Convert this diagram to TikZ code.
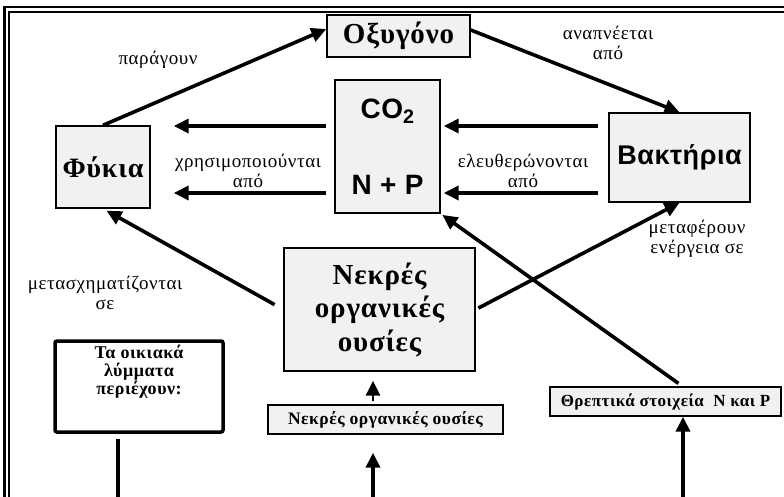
\documentclass[tikz,border=0pt]{standalone}
\usepackage{fontspec}
\setmainfont{Liberation Serif}
\setsansfont{Liberation Sans}
\newfontfamily\spacedserif[LetterSpace=3]{Liberation Serif}
\newfontfamily\spacedsans[LetterSpace=2]{Liberation Sans}
\usetikzlibrary{arrows.meta}
\pgfdeclarelayer{edgelayer}
\pgfdeclarelayer{nodelayer}
\pgfsetlayers{edgelayer,nodelayer,main}
\definecolor{boxgray}{RGB}{241,241,241}
\tikzstyle{box}=[draw=black, fill=boxgray, line width=1.4pt, inner sep=0pt]
\tikzstyle{flow}=[draw=black, line width=3.6pt, -{Triangle[length=15pt,width=14pt]}]
\tikzstyle{plain}=[draw=black, line width=3.6pt]
\tikzstyle{lbl}=[font=\spacedserif\fontsize{19}{19.5}\selectfont, align=center]

\begin{document}
\begin{tikzpicture}[x=1pt, y=-1pt]
				\useasboundingbox (0,0) rectangle (784,497);
				\draw [line width=2.6pt] (4.5,497) -- (4.5,7) -- (784,7);
				\draw [line width=2pt] (8.5,497) -- (8.5,12) -- (784,12);
				\begin{pgfonlayer}{nodelayer}
					\node [style=box, minimum width=143pt, minimum height=42pt, font=\spacedserif\bfseries\fontsize{29}{30}\selectfont] (oxygen) at (398.5, 36) {Οξυγόνο};
					\node [style=box, minimum width=105pt, minimum height=133pt, align=center, font=\spacedsans\bfseries\fontsize{28}{31}\selectfont] (nutpool) at (387.5, 146.5) {CO\textsubscript{2}\\[45pt]N + P};
					\node [style=box, minimum width=94pt, minimum height=82pt, font=\spacedserif\bfseries\fontsize{28}{30}\selectfont] (algae) at (103, 167) {Φύκια};
					\node [style=box, minimum width=141pt, minimum height=89pt, font=\spacedsans\bfseries\fontsize{27}{30}\selectfont] (bacteria) at (679.5, 157.5) {Βακτήρια};
					\node [style=box, minimum width=191pt, minimum height=123pt, align=center, font=\spacedserif\bfseries\fontsize{29}{33.5}\selectfont] (dead) at (379.5, 309.5) {Νεκρές\\οργανικές\\ουσίες};
					\node [draw=black, fill=white, line width=3.5pt, rounded corners=2pt, minimum width=168pt, minimum height=91pt,
						label={[anchor=north, yshift=-6pt, inner sep=0pt, align=center, font=\spacedserif\bfseries\fontsize{18}{18}\selectfont]north:Τα οικιακά\\λύμματα\\περιέχουν:}] (sewage) at (139, 386.5) {};
					\node [style=box, minimum width=235pt, minimum height=29pt, font=\spacedserif\bfseries\fontsize{17.5}{18}\selectfont] (smalldead) at (385.5, 419.5) {Νεκρές οργανικές ουσίες};
					\node [style=box, minimum width=231pt, minimum height=29pt, font=\spacedserif\bfseries\fontsize{17}{18}\selectfont] (nutrients) at (665.5, 401.5) {Θρεπτικά στοιχεία\ \ N και P};
					\node [style=lbl] (produce) at (158, 60) {παράγουν};
					\node [style=lbl] (breathe) at (608, 43) {αναπνέεται\\από};
					\node [style=lbl] (use) at (248, 171) {χρησιμοποιούνται\\από};
					\node [style=lbl] (release) at (523, 171) {ελευθερώνονται\\από};
					\node [style=lbl] (transfer) at (697, 239) {μεταφέρουν\\ενέργεια σε};
					\node [style=lbl] (transform) at (105, 293) {μετασχηματίζονται\\σε};
					\coordinate (upper) at (0, 126);
					\coordinate (lower) at (0, 193);
					\coordinate (drainA) at (118, 497);
					\coordinate (drainB) at (373, 497);
					\coordinate (drainC) at (683, 497);
				\end{pgfonlayer}
				\begin{pgfonlayer}{edgelayer}
					\draw [style=flow] (algae.north) to ([yshift=7pt]oxygen.west);
					\draw [style=flow] ([yshift=6pt]oxygen.east) to (bacteria.north);
					\draw [style=flow, shorten <=8pt, shorten >=23pt] (nutpool.west |- upper) to (algae.east |- upper);
					\draw [style=flow, shorten <=8pt, shorten >=23pt] (nutpool.west |- lower) to (algae.east |- lower);
					\draw [style=flow, shorten <=10pt, shorten >=3pt] (bacteria.west |- upper) to (nutpool.east |- upper);
					\draw [style=flow, shorten <=10pt, shorten >=3pt] (bacteria.west |- lower) to (nutpool.east |- lower);
					\draw [style=flow, shorten <=10pt, shorten >=4pt] (dead.west) to (algae.south);
					\draw [style=flow, shorten <=3pt] (dead.east) to (bacteria.south);
					\draw [style=flow, shorten <=5pt, shorten >=2pt] ([xshift=17pt]nutrients.north) to (nutpool.south east);
					\draw [style=flow, line width=2.6pt, shorten <=3pt, shorten >=9pt] (drainB |- smalldead.north) to (drainB |- dead.south);
					\draw [style=plain, shorten <=5pt] (sewage.south -| drainA) to (drainA);
					\draw [style=flow, shorten >=18pt] (drainB) to (drainB |- smalldead.south);
					\draw [style=flow] (drainC) to (drainC |- nutrients.south);
				\end{pgfonlayer}
\end{tikzpicture}
\end{document}
